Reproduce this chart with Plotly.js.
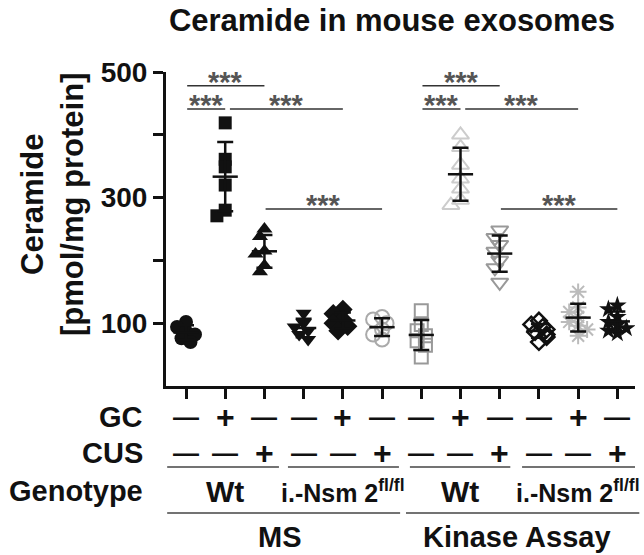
<!DOCTYPE html>
<html>
<head>
<meta charset="utf-8">
<script src="https://cdn.plot.ly/plotly-3.0.1.min.js"></script>
<style>
  body { margin: 0; background: #fff; }
  #grafico { width: 644px; height: 555px; }
</style>
</head>
<body>
<div id="grafico"></div>
<script>
// Grupos (12 colunas): MS e Kinase Assay, Wt e i.-Nsm2
const groups = ['MS Wt', 'MS Wt GC', 'MS Wt CUS', 'MS Nsm2', 'MS Nsm2 GC', 'MS Nsm2 CUS',
                'KA Wt', 'KA Wt GC', 'KA Wt CUS', 'KA Nsm2', 'KA Nsm2 GC', 'KA Nsm2 CUS'];
const gcRow  = ['—', '+', '—', '—', '+', '—', '—', '+', '—', '—', '+', '—'];
const cusRow = ['—', '—', '+', '—', '—', '+', '—', '—', '+', '—', '—', '+'];
const genotypeLabels = ['Wt', 'i.-Nsm 2<sup>fl/fl</sup>', 'Wt', 'i.-Nsm 2<sup>fl/fl</sup>'];
const methodLabels = ['MS', 'Kinase Assay'];
const yTickLabels = ['100', '300', '500'];

// Ceramide (pmol/mg protein)
const msWt       = [102, 94, 87, 82, 76, 70];
const msWtGC     = [419, 361, 349, 320, 280, 271];
const msWtCUS    = [250, 238, 215, 210, 192, 182];
const msNsm      = [116, 100, 94, 88, 82, 74];
const msNsmGC    = [122, 115, 106, 100, 95, 88];
const msNsmCUS   = [110, 106, 100, 90, 82, 74];
const kaWt       = [120, 98, 88, 80, 72, 65, 46];
const kaWtGC     = [400, 380, 352, 330, 314, 296, 288];
const kaWtCUS    = [248, 236, 225, 214, 200, 188, 165];
const kaNsm      = [104, 98, 94, 90, 86, 82, 78, 70];
const kaNsmGC    = [150, 125, 118, 110, 102, 96, 90, 80];
const kaNsmCUS   = [128, 122, 110, 102, 97, 92, 88, 84];
const values = [msWt, msWtGC, msWtCUS, msNsm, msNsmGC, msNsmCUS,
                kaWt, kaWtGC, kaWtCUS, kaNsm, kaNsmGC, kaNsmCUS];

// Comparações significativas (índices dos grupos)
const sigPairs = [[0, 2], [0, 1], [1, 4], [2, 5], [6, 8], [6, 7], [7, 10], [8, 11]];
const sigLabel = '***';

// ---- estilo / layout ----
const W = 644, H = 555;
const M = { l: 166, r: 9, t: 72, b: 169 };
const plotW = W - M.l - M.r, plotH = H - M.t - M.b;
const xRange = [-0.51, 11.45], yRange = [0, 500];
const pxX = plotW / (xRange[1] - xRange[0]);
const pxY = plotH / (yRange[1] - yRange[0]);
const FONT = 'Liberation Sans, Arial, sans-serif';

const styles = [
  { symbol: 'circle', color: '#111', size: 14 },
  { symbol: 'square', color: '#111', size: 13 },
  { symbol: 'triangle-up', color: '#111', size: 14 },
  { symbol: 'triangle-down', color: '#111', size: 14 },
  { symbol: 'diamond', color: '#111', size: 15 },
  { symbol: 'circle-open', color: '#aaa', size: 14 },
  { symbol: 'square-open', color: '#999', size: 13 },
  { symbol: 'triangle-up-open', color: '#ccc', size: 15 },
  { symbol: 'triangle-down-open', color: '#999', size: 15 },
  { symbol: 'diamond-open', color: '#111', size: 12 },
  { symbol: 'asterisk-open', color: '#bbb', size: 14 },
  { symbol: 'star', color: '#111', size: 14 }
];

// espalha pontos sobrepostos na horizontal (tipo GraphPad), pouco
function spread(vals, size) {
  const placed = [];
  return vals.map(v => {
    const py = v * pxY;
    let off = 0;
    for (let i = 0; i < 5; i++) {
      off = (i % 2 ? -1 : 1) * Math.ceil(i / 2) * size * 0.32;
      const ok = placed.every(p => Math.hypot(p[0] - off, p[1] - py) >= size * 0.55);
      if (ok) break;
    }
    placed.push([off, py]);
    return off / pxX;
  });
}

function mean(a) { return a.reduce((s, v) => s + v, 0) / a.length; }
function sd(a) {
  const m = mean(a);
  return Math.sqrt(a.reduce((s, v) => s + (v - m) * (v - m), 0) / (a.length - 1));
}

const traces = [];
values.forEach((vals, i) => {
  const st = styles[i];
  const offs = spread(vals, st.size);
  traces.push({
    type: 'scatter', mode: 'markers', name: groups[i],
    x: vals.map((v, k) => i + offs[k]), y: vals,
    marker: {
      symbol: st.symbol, size: st.size, color: st.color,
      line: { color: st.color, width: st.symbol.includes('open') ? (st.color === '#111' ? 2.5 : 2) : 0 }
    },
    hoverinfo: 'y', showlegend: false
  });
});

// média ± DP
traces.push({
  type: 'scatter', mode: 'markers',
  x: groups.map((g, i) => i), y: values.map(mean),
  error_y: { type: 'data', array: values.map(sd), visible: true, color: '#111', thickness: 2.5, width: 8 },
  marker: { symbol: 'line-ew', size: 18, color: '#111', line: { color: '#111', width: 2.5 } },
  hoverinfo: 'y', showlegend: false
});

// helpers de posição (pixels -> papel)
const xp = v => (v - xRange[0]) / (xRange[1] - xRange[0]);
const yPix = p => (M.t + plotH - p) / plotH;

const shapes = [];
const annotations = [];

// barras de significância
const bracketY = [478, 441, 441, 282, 478, 441, 441, 282];
sigPairs.forEach((pr, k) => {
  const lvl = bracketY[k];
  const touching = sigPairs.some((q, j) => j !== k && bracketY[j] === lvl && q[1] === pr[0]);
  const x0 = pr[0] + (touching ? 0.12 : 0.03), x1 = pr[1];
  shapes.push({ type: 'line', xref: 'x', yref: 'y', x0: x0, x1: x1, y0: lvl, y1: lvl,
                line: { color: '#333', width: 1.5 } });
  annotations.push({ xref: 'x', yref: 'y', x: (x0 + x1) / 2, y: lvl, yshift: 4,
                     yanchor: 'middle', showarrow: false, text: sigLabel,
                     font: { family: FONT, size: 29, color: '#555', weight: 'bold' } });
});

// tabela abaixo do eixo
const tableFont = { family: FONT, size: 29, color: '#111', weight: 'bold' };
function rowLabel(text, pix) {
  annotations.push({ xref: 'paper', yref: 'paper', x: (145 - M.l) / plotW, y: yPix(pix),
                     xanchor: 'right', yanchor: 'middle', showarrow: false, text: text, font: tableFont });
}
rowLabel('GC', 417);
rowLabel('CUS', 453);
rowLabel('Genotype', 491);

groups.forEach((g, i) => {
  annotations.push({ xref: 'paper', yref: 'paper', x: xp(i), y: yPix(417), xanchor: 'center', yanchor: 'middle',
                     showarrow: false, text: gcRow[i], font: { ...tableFont, size: gcRow[i] === '+' ? 32 : 26 } });
  annotations.push({ xref: 'paper', yref: 'paper', x: xp(i), y: yPix(453), xanchor: 'center', yanchor: 'middle',
                     showarrow: false, text: cusRow[i], font: { ...tableFont, size: cusRow[i] === '+' ? 32 : 26 } });
});

genotypeLabels.forEach((t, k) => {
  const c = k * 3 + 1;
  annotations.push({ xref: 'paper', yref: 'paper', x: xp(c), y: yPix(491), xanchor: 'center', yanchor: 'middle',
                     showarrow: false, text: t, font: { ...tableFont, size: t === 'Wt' ? 30 : 25 } });
});
annotations.push({ xref: 'paper', yref: 'paper', x: xp(2.4), y: yPix(537), xanchor: 'center', yanchor: 'middle',
                   showarrow: false, text: methodLabels[0], font: tableFont });
annotations.push({ xref: 'paper', yref: 'paper', x: xp(8.45), y: yPix(537), xanchor: 'center', yanchor: 'middle',
                   showarrow: false, text: methodLabels[1], font: tableFont });

const line1 = [[-0.48, 2.37], [2.6, 5.43], [5.71, 8.27], [8.57, 11.45]];
const line2 = [[-0.48, 5.46], [5.61, 11.56]];
line1.forEach(s => shapes.push({ type: 'line', xref: 'paper', yref: 'paper', x0: xp(s[0]), x1: xp(s[1]),
                                 y0: yPix(467), y1: yPix(467), line: { color: '#444', width: 1.5 } }));
line2.forEach(s => shapes.push({ type: 'line', xref: 'paper', yref: 'paper', x0: xp(s[0]), x1: xp(s[1]),
                                 y0: yPix(513), y1: yPix(513), line: { color: '#444', width: 1.5 } }));

// título do eixo y
annotations.push({ xref: 'paper', yref: 'paper', x: (52 - M.l) / plotW, y: yPix(205),
                   xanchor: 'center', yanchor: 'middle', textangle: -90, showarrow: false,
                   text: 'Ceramide<br>[pmol/mg protein]', font: { ...tableFont, size: 31 } });

const layout = {
  width: W, height: H,
  margin: M,
  paper_bgcolor: '#fff', plot_bgcolor: '#fff',
  font: { family: FONT, color: '#111' },
  title: {
    text: 'Ceramide in mouse exosomes',
    font: { family: FONT, size: 31, color: '#111', weight: 'bold' },
    xref: 'container', yref: 'container', x: 392 / W, y: 1 - 20 / H,
    xanchor: 'center', yanchor: 'middle'
  },
  xaxis: {
    range: xRange, showgrid: false, zeroline: false,
    showline: true, linecolor: '#111', linewidth: 3,
    ticks: 'outside', ticklen: 10, tickwidth: 3, tickcolor: '#111',
    tickvals: groups.map((g, i) => i), showticklabels: false, fixedrange: true
  },
  yaxis: {
    range: yRange, showgrid: false, zeroline: false,
    showline: true, linecolor: '#111', linewidth: 3,
    ticks: 'outside', ticklen: 10, tickwidth: 3, tickcolor: '#111',
    tickmode: 'array', tickvals: yTickLabels.map(Number), ticktext: yTickLabels,
    minor: { tickmode: 'array', tickvals: [200, 400], ticks: 'outside', ticklen: 10, tickwidth: 3, tickcolor: '#111', showgrid: false },
    tickfont: { family: FONT, size: 28, color: '#111', weight: 'bold' },
    ticklabelstandoff: 0, fixedrange: true
  },
  shapes: shapes,
  annotations: annotations
};

Plotly.newPlot('grafico', traces, layout, { displayModeBar: false, staticPlot: true });
</script>
</body>
</html>
